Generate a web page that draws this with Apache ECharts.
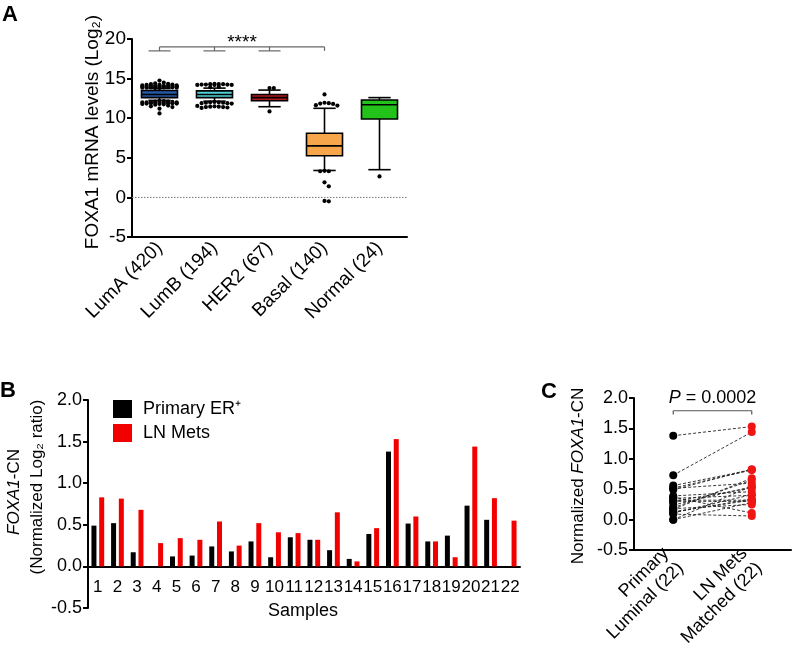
<!DOCTYPE html>
<html><head><meta charset="utf-8">
<script src="https://cdn.jsdelivr.net/npm/echarts@6/dist/echarts.min.js"></script>
<style>html,body{margin:0;padding:0;background:#fff}#c{width:793px;height:650px}</style>
</head><body><div id="c"></div>
<script>
// ---------- Panel A data ----------
const subtypes = ['LumA (420)', 'LumB (194)', 'HER2 (67)', 'Basal (140)', 'Normal (24)'];
const boxMin    = [12.25, 12.15, 11.45, 3.4, 3.5];
const boxQ1     = [12.6, 12.6, 12.2, 5.25, 9.9];
const boxMedian = [13.0, 13.0, 12.6, 6.5, 11.7];
const boxQ3     = [13.5, 13.45, 13.0, 8.1, 12.3];
const boxMax    = [13.75, 13.8, 13.55, 11.25, 12.6];
const outliersLumA = [14.75, 14.5, 14.4, 14.35, 14.3, 14.25, 14.2, 14.2, 14.15, 14.15, 14.1, 14.1, 14.1, 14.05, 14.05, 14.05, 14.0, 14.0, 14.0, 14.0, 13.95, 13.95, 13.95, 13.9, 13.9, 13.9, 13.85, 13.85, 13.85, 13.8, 13.8,
  12.2, 12.15, 12.1, 12.1, 12.05, 12.05, 12.0, 12.0, 12.0, 11.95, 11.95, 11.95, 11.9, 11.9, 11.9, 11.85, 11.85, 11.8, 11.8, 11.75, 11.7, 11.6, 11.5, 11.4, 11.2, 10.6];
const outliersLumB = [14.35, 14.3, 14.3, 14.3, 14.25, 14.25, 14.25, 14.2, 14.2, 14.2, 13.95, 13.9,
  12.05, 12.0, 12.0, 11.95, 11.95, 11.9, 11.9, 11.85, 11.55, 11.5, 11.45, 11.45, 11.4, 11.4, 11.35, 11.3];
const outliersHER2 = [13.8, 13.8, 10.85];
const outliersBasal = [13.0, 11.95, 11.9, 11.85, 11.8, 11.65, 11.6, 3.35, 3.3, 3.3, 1.9, 1.4, -0.45, -0.5];
const outliersNormal = [2.65];
const boxColors = ['#2656a6', '#4fd0d8', '#b3191b', '#f8a64c', '#22c21a'];
const sigGroups = [0, 1, 2];
const sigRef = 3;
const sigY = 19.0;
const sigLabel = '****';

// ---------- Panel B / C data ----------
const samples = ['1','2','3','4','5','6','7','8','9','10','11','12','13','14','15','16','17','18','19','20','21','22'];
const primaryER = [0.49, 0.52, 0.17, 0.0, 0.12, 0.13, 0.24, 0.18, 0.30, 0.11, 0.35, 0.32, 0.195, 0.09, 0.39, 1.38, 0.515, 0.30, 0.37, 0.73, 0.56, 0.0];
const lnMets    = [0.83, 0.815, 0.68, 0.28, 0.34, 0.32, 0.54, 0.25, 0.52, 0.41, 0.40, 0.32, 0.65, 0.06, 0.46, 1.53, 0.60, 0.30, 0.11, 1.44, 0.82, 0.55];
const groupsC = ['Primary\nLuminal (22)', 'LN Mets\nMatched (22)'];
const pLabel = '{i|P} = 0.0002';
const pY = 1.79;

// ---------- layout ----------
const FONT = 'Liberation Sans, Arial, Helvetica, sans-serif';
const gridA = {left: 132, top: 39, width: 275, height: 198};
const gridB = {left: 88, top: 400, width: 432, height: 208};
const gridC = {left: 634, top: 398, width: 157, height: 161};
const AX = {lineStyle: {color: '#000', width: 2}};

function swarm(values, pxPerUnit, d, maxOff) {
  const placed = [];
  return values.slice().sort((a, b) => b - a).map(v => {
    const y = v * pxPerUnit;
    let best = 0, bestScore = -Infinity;
    const kMax = Math.floor(maxOff / d) * 2;
    for (let k = 0; k <= kMax; k++) {
      const off = (k % 2 === 1 ? 1 : -1) * Math.ceil(k / 2) * d;
      let minDist = Infinity;
      for (const p of placed) minDist = Math.min(minDist, Math.hypot(p.off - off, p.y - y));
      if (minDist >= d * 0.95) { best = off; break; }
      if (minDist > bestScore) { bestScore = minDist; best = off; }
    }
    placed.push({y, off: best});
    return [v, best];
  });
}
const pxA = gridA.height / 25;
const outlierData = [];
[outliersLumA, outliersLumB, outliersHER2, outliersBasal, outliersNormal].forEach((arr, g) => {
  swarm(arr, pxA, 4.3, 19).forEach(([v, off]) => outlierData.push([g, v, off]));
});

const chart = echarts.init(document.getElementById('c'), null, {renderer: 'canvas'});

chart.setOption({
  animation: false,
  textStyle: {fontFamily: FONT, color: '#000'},
  grid: [
    Object.assign({containLabel: false}, gridA),
    Object.assign({containLabel: false}, gridB),
    Object.assign({containLabel: false}, gridC)
  ],
  xAxis: [
    {type: 'category', gridIndex: 0, data: subtypes, axisLine: Object.assign({onZero: false}, AX),
     axisTick: {alignWithLabel: true, length: 6, lineStyle: {color: '#000', width: 2}},
     axisLabel: {rotate: 45, fontSize: 19, margin: 8, color: '#000', fontFamily: FONT, interval: 0}},
    {type: 'category', gridIndex: 1, data: samples, axisLine: Object.assign({onZero: true}, AX),
     axisTick: {alignWithLabel: true, length: 5, lineStyle: {color: '#000', width: 2}},
     axisLabel: {show: false}},
    {type: 'category', gridIndex: 2, data: groupsC, axisLine: Object.assign({onZero: false}, AX),
     axisTick: {alignWithLabel: true, length: 6, lineStyle: {color: '#000', width: 2}},
     axisLabel: {rotate: 45, fontSize: 18, lineHeight: 21, margin: 8, color: '#000', fontFamily: FONT, interval: 0}}
  ],
  yAxis: [
    {type: 'value', gridIndex: 0, min: -5, max: 20, interval: 5, axisLine: Object.assign({show: true, onZero: false}, AX),
     axisTick: {show: true, length: 5, lineStyle: {color: '#000', width: 2}}, splitLine: {show: false},
     axisLabel: {fontSize: 19, margin: 6, color: '#000', fontFamily: FONT}},
    {type: 'value', gridIndex: 1, min: -0.5, max: 2, interval: 0.5, axisLine: Object.assign({show: true, onZero: false}, AX),
     axisTick: {show: true, length: 5, lineStyle: {color: '#000', width: 2}}, splitLine: {show: false},
     axisLabel: {fontSize: 18, margin: 6, color: '#000', fontFamily: FONT, formatter: v => v.toFixed(1)}},
    {type: 'value', gridIndex: 2, min: -0.5, max: 2, interval: 0.5, axisLine: Object.assign({show: true, onZero: false}, AX),
     axisTick: {show: true, length: 5, lineStyle: {color: '#000', width: 2}}, splitLine: {show: false},
     axisLabel: {fontSize: 18, margin: 6, color: '#000', fontFamily: FONT, formatter: v => v.toFixed(1)}}
  ],
  legend: {
    data: ['Primary ER⁺', 'LN Mets'], orient: 'vertical', left: 113, top: 400, padding: 0,
    itemWidth: 19, itemHeight: 18, itemGap: 6, icon: 'rect', selectedMode: false,
    textStyle: {fontSize: 18, color: '#000', fontFamily: FONT, padding: [0, 0, 0, 6]}
  },
  series: [
    // zero line + significance bracket (panel A)
    {type: 'custom', xAxisIndex: 0, yAxisIndex: 0, data: [[0]], silent: true, z: 1,
     renderItem(params, api) {
       const cs = params.coordSys;
       const y0 = api.coord([0, 0])[1];
       const yTop = api.coord([0, sigY])[1];
       const yLow = api.coord([0, sigY - 0.5])[1];
       const xs = sigGroups.concat([sigRef]).map(g => api.coord([g, 0])[0]);
       const ls = {stroke: '#666', lineWidth: 1.2, fill: null};
       const ch = [{type: 'line', shape: {x1: cs.x, y1: y0, x2: cs.x + cs.width, y2: y0},
                    style: {stroke: '#777', lineWidth: 1, lineDash: [1.5, 1.5]}}];
       ch.push({type: 'line', shape: {x1: xs[0], y1: yTop, x2: xs[xs.length - 1], y2: yTop}, style: ls});
       xs.forEach((x, k) => {
         ch.push({type: 'line', shape: {x1: x, y1: yTop, x2: x, y2: yLow}, style: ls});
         if (k < sigGroups.length) ch.push({type: 'line', shape: {x1: x - 11, y1: yLow, x2: x + 11, y2: yLow}, style: ls});
       });
       ch.push({type: 'text', x: (xs[0] + xs[xs.length - 1]) / 2, y: yTop + 5,
                style: {text: sigLabel, fontSize: 19, fontFamily: FONT, fill: '#000', textAlign: 'center', textVerticalAlign: 'bottom'}});
       return {type: 'group', children: ch};
     }},
    // box plots
    {type: 'custom', xAxisIndex: 0, yAxisIndex: 0, z: 2,
     data: subtypes.map((s, i) => [i, boxMin[i], boxQ1[i], boxMedian[i], boxQ3[i], boxMax[i]]),
     encode: {x: 0, y: [1, 2, 3, 4, 5]},
     renderItem(params, api) {
       const i = api.value(0);
       const x = api.coord([i, 0])[0];
       const band = api.size([1, 0])[0];
       const bw = band * 0.655, cw = bw * 0.62;
       const y = k => api.coord([i, api.value(k)])[1];
       const yMin = y(1), yQ1 = y(2), yMed = y(3), yQ3 = y(4), yMax = y(5);
       const ls = {stroke: '#000', lineWidth: 1.6};
       return {type: 'group', children: [
         {type: 'line', shape: {x1: x, y1: yQ3, x2: x, y2: yMax}, style: ls},
         {type: 'line', shape: {x1: x, y1: yQ1, x2: x, y2: yMin}, style: ls},
         {type: 'line', shape: {x1: x - cw / 2, y1: yMax, x2: x + cw / 2, y2: yMax}, style: ls},
         {type: 'line', shape: {x1: x - cw / 2, y1: yMin, x2: x + cw / 2, y2: yMin}, style: ls},
         {type: 'rect', shape: {x: x - bw / 2, y: yQ3, width: bw, height: yQ1 - yQ3},
          style: {fill: boxColors[i], stroke: '#000', lineWidth: 1.6}},
         {type: 'line', shape: {x1: x - bw / 2, y1: yMed, x2: x + bw / 2, y2: yMed}, style: ls}
       ]};
     }},
    // outliers
    {type: 'custom', xAxisIndex: 0, yAxisIndex: 0, z: 3, data: outlierData,
     encode: {x: 0, y: 1},
     renderItem(params, api) {
       const p = api.coord([api.value(0), api.value(1)]);
       return {type: 'circle', shape: {cx: p[0] + api.value(2), cy: p[1], r: 2.1}, style: {fill: '#000'}};
     }},
    // panel B bars
    {name: 'Primary ER⁺', type: 'bar', xAxisIndex: 1, yAxisIndex: 1, data: primaryER, barWidth: 5, barGap: '55%',
     itemStyle: {color: '#000'}},
    {name: 'LN Mets', type: 'bar', xAxisIndex: 1, yAxisIndex: 1, data: lnMets, barWidth: 5,
     itemStyle: {color: '#f20000'}},
    // panel B sample labels under the zero axis line
    {type: 'custom', xAxisIndex: 1, yAxisIndex: 1, z: 3, silent: true,
     data: samples.map((s, i) => [i, 0]),
     renderItem(params, api) {
       const p = api.coord([api.value(0), 0]);
       return {type: 'text', x: p[0], y: p[1] + 21,
               style: {text: samples[params.dataIndex], fontSize: 17, fontFamily: FONT, fill: '#000', textAlign: 'center', textVerticalAlign: 'middle'}};
     }},
    // panel C paired lines + bracket
    {type: 'custom', xAxisIndex: 2, yAxisIndex: 2, z: 2, silent: true,
     data: samples.map((s, i) => [primaryER[i], lnMets[i]]),
     renderItem(params, api) {
       const a = api.coord([0, api.value(0)]);
       const b = api.coord([1, api.value(1)]);
       return {type: 'line', shape: {x1: a[0], y1: a[1], x2: b[0], y2: b[1]},
               style: {stroke: '#222', lineWidth: 0.9, lineDash: [3, 2]}};
     }},
    {type: 'custom', xAxisIndex: 2, yAxisIndex: 2, z: 2, silent: true, data: [[0]],
     renderItem(params, api) {
       const a = api.coord([0, pY]);
       const b = api.coord([1, pY]);
       const low = api.coord([0, pY - 0.06])[1];
       const ls = {stroke: '#555', lineWidth: 1.2};
       return {type: 'group', children: [
         {type: 'line', shape: {x1: a[0], y1: a[1], x2: b[0], y2: b[1]}, style: ls},
         {type: 'line', shape: {x1: a[0], y1: a[1], x2: a[0], y2: low}, style: ls},
         {type: 'line', shape: {x1: b[0], y1: b[1], x2: b[0], y2: low}, style: ls},
         {type: 'text', x: (a[0] + b[0]) / 2, y: a[1] - 4,
          style: {text: pLabel, fontSize: 18, fontFamily: FONT, fill: '#000', textAlign: 'center', textVerticalAlign: 'bottom',
                  rich: {i: {fontStyle: 'italic', fontSize: 18, fontFamily: FONT}}}}
       ]};
     }},
    {type: 'scatter', xAxisIndex: 2, yAxisIndex: 2, z: 3, symbolSize: 8,
     data: primaryER.map(v => [0, v]), itemStyle: {color: '#000', opacity: 1}},
    {type: 'scatter', xAxisIndex: 2, yAxisIndex: 2, z: 3, symbolSize: 8,
     data: lnMets.map(v => [1, v]), itemStyle: {color: '#ee1515', opacity: 1}}
  ],
  graphic: [
    {type: 'text', x: 10, y: 15, style: {text: 'A', font: 'bold 22px ' + FONT, fill: '#000', textAlign: 'center', textVerticalAlign: 'middle'}},
    {type: 'text', x: 8, y: 391, style: {text: 'B', font: 'bold 22px ' + FONT, fill: '#000', textAlign: 'center', textVerticalAlign: 'middle'}},
    {type: 'text', x: 549, y: 392, style: {text: 'C', font: 'bold 22px ' + FONT, fill: '#000', textAlign: 'center', textVerticalAlign: 'middle'}},
    {type: 'text', x: 93, y: 132, rotation: Math.PI / 2,
     style: {text: 'FOXA1 mRNA levels (Log₂)', fontSize: 19, fontFamily: FONT, fill: '#000', textAlign: 'center', textVerticalAlign: 'middle'}},
    {type: 'text', x: 14, y: 492, rotation: Math.PI / 2,
     style: {text: '{i|FOXA1}-CN', fontSize: 17, fontFamily: FONT, fill: '#000', textAlign: 'center', textVerticalAlign: 'middle',
             rich: {i: {fontStyle: 'italic', fontSize: 17, fontFamily: FONT}}}},
    {type: 'text', x: 37, y: 487, rotation: Math.PI / 2,
     style: {text: '(Normalized Log₂ ratio)', fontSize: 17, fontFamily: FONT, fill: '#000', textAlign: 'center', textVerticalAlign: 'middle'}},
    {type: 'text', x: 303, y: 611,
     style: {text: 'Samples', fontSize: 18, fontFamily: FONT, fill: '#000', textAlign: 'center', textVerticalAlign: 'middle'}},
    {type: 'text', x: 578, y: 476, rotation: Math.PI / 2,
     style: {text: 'Normalized {i|FOXA1}-CN', fontSize: 17, fontFamily: FONT, fill: '#000', textAlign: 'center', textVerticalAlign: 'middle',
             rich: {i: {fontStyle: 'italic', fontSize: 17, fontFamily: FONT}}}}
  ]
});
</script>
</body></html>
